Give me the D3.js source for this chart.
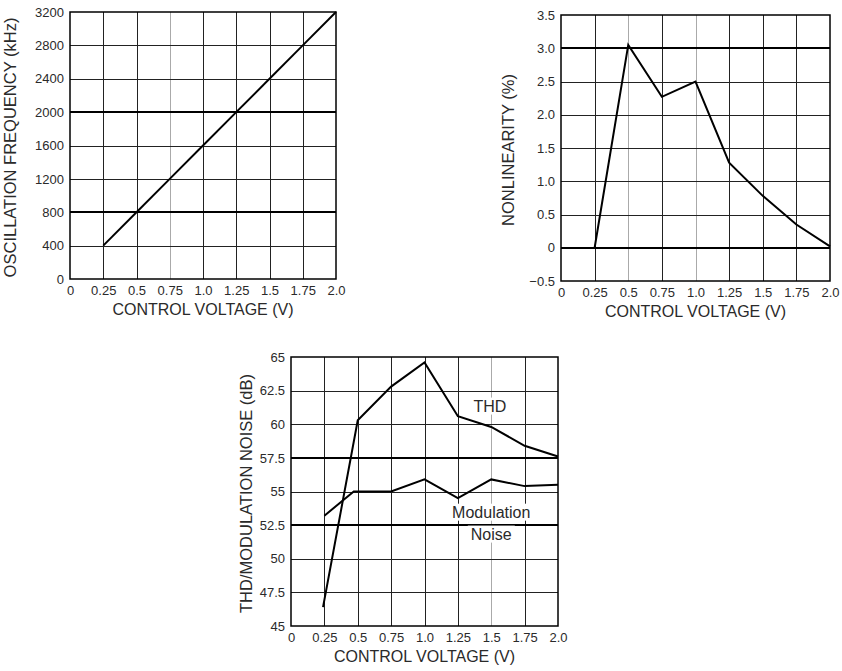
<!DOCTYPE html>
<html>
<head>
<meta charset="utf-8">
<script src="https://cdn.jsdelivr.net/npm/d3@7"></script>
<style>
  body { margin: 0; background: #fff; }
  svg { display: block; font-family: "Liberation Sans", Arial, Helvetica, sans-serif; }
  .tick text { fill: #2a2a2a; }
</style>
</head>
<body>
<script>
// x values shared by all three charts
var voltages = [0.25, 0.5, 0.75, 1.0, 1.25, 1.5, 1.75, 2.0];
var xTicks = [0, 0.25, 0.5, 0.75, 1.0, 1.25, 1.5, 1.75, 2.0];
var xTickLabels = ["0", "0.25", "0.5", "0.75", "1.0", "1.25", "1.5", "1.75", "2.0"];

// chart 1: oscillation frequency
var freq = [400, 800, 1200, 1600, 2000, 2400, 2800, 3200];
var freqTicks = [0, 400, 800, 1200, 1600, 2000, 2400, 2800, 3200];

// chart 2: nonlinearity
var nonlin = [0, 3.05, 2.27, 2.5, 1.28, 0.78, 0.35, 0.02];
var nonlinTicks = [-0.5, 0, 0.5, 1.0, 1.5, 2.0, 2.5, 3.0, 3.5];
var nonlinTickLabels = ["\u22120.5", "0", "0.5", "1.0", "1.5", "2.0", "2.5", "3.0", "3.5"];

// chart 3: THD and modulation noise
var thdX = [0.24, 0.5, 0.75, 1.0, 1.25, 1.5, 1.75, 2.0];
var thd = [46.4, 60.3, 62.8, 64.6, 60.6, 59.8, 58.4, 57.6];
var noiseX = [0.25, 0.47, 0.75, 1.0, 1.25, 1.5, 1.75, 2.0];
var noise = [53.2, 55.0, 55.0, 55.9, 54.5, 55.9, 55.4, 55.5];
var dbTicks = [45, 47.5, 50, 52.5, 55, 57.5, 60, 62.5, 65];

var svg = d3.select("body").append("svg")
  .attr("width", 842)
  .attr("height", 671);

// snap to pixel so 1px grid lines stay crisp
function px(v) { return Math.round(v) + 0.5; }

function drawChart(opt) {
  var g = svg.append("g");
  var x = d3.scaleLinear().domain([0, 2]).range([opt.left, opt.right]);
  var y = d3.scaleLinear().domain(opt.yDomain).range([opt.bottom, opt.top]);

  // grid
  g.selectAll(".vgrid").data(xTicks.slice(1, -1)).enter().append("line")
    .attr("x1", d => px(x(d))).attr("x2", d => px(x(d)))
    .attr("y1", opt.top).attr("y2", opt.bottom)
    .attr("stroke", d => opt.lightV.indexOf(d) >= 0 ? "#aaa" : "#222")
    .attr("stroke-width", 1);
  g.selectAll(".hgrid").data(opt.yTicks.slice(1, -1)).enter().append("line")
    .attr("x1", opt.left).attr("x2", opt.right)
    .attr("y1", d => opt.thickH.indexOf(d) >= 0 ? Math.round(y(d)) : px(y(d)))
    .attr("y2", d => opt.thickH.indexOf(d) >= 0 ? Math.round(y(d)) : px(y(d)))
    .attr("stroke", d => opt.thickH.indexOf(d) >= 0 ? "#000" : "#222")
    .attr("stroke-width", d => opt.thickH.indexOf(d) >= 0 ? 2 : 1);

  // frame
  g.append("rect")
    .attr("x", opt.left).attr("y", opt.top)
    .attr("width", opt.right - opt.left).attr("height", opt.bottom - opt.top)
    .attr("fill", "none").attr("stroke", "#000").attr("stroke-width", 1.5);

  // axes
  var xAxis = d3.axisBottom(x).tickValues(xTicks)
    .tickFormat((d, i) => xTickLabels[i]).tickSize(0).tickPadding(7);
  g.append("g").attr("transform", `translate(0,${opt.bottom})`).call(xAxis)
    .call(a => a.select(".domain").remove())
    .selectAll("text").style("font-size", "13px");

  var yAxis = d3.axisLeft(y).tickValues(opt.yTicks)
    .tickFormat((d, i) => opt.yLabels[i]).tickSize(0).tickPadding(6);
  g.append("g").attr("transform", `translate(${opt.left},0)`).call(yAxis)
    .call(a => a.select(".domain").remove())
    .selectAll("text").style("font-size", "13px");

  // titles
  g.append("text")
    .attr("x", (opt.left + opt.right) / 2)
    .attr("y", opt.bottom + 36)
    .attr("text-anchor", "middle")
    .style("font-size", "16px").attr("fill", "#2a2a2a")
    .text("CONTROL VOLTAGE (V)");
  g.append("text")
    .attr("transform", `translate(${opt.yTitleX},${(opt.top + opt.bottom) / 2 + 2}) rotate(-90)`)
    .attr("text-anchor", "middle")
    .style("font-size", "16.5px").attr("fill", "#2a2a2a")
    .text(opt.yTitle);

  var line = d3.line().x(d => x(d[0])).y(d => y(d[1]));
  opt.series.forEach(function(s) {
    g.append("path")
      .datum(d3.zip(s.x, s.y))
      .attr("d", line)
      .attr("fill", "none")
      .attr("stroke", "#000")
      .attr("stroke-width", 2);
  });
  return { g: g, x: x, y: y };
}

drawChart({
  left: 70, right: 336, top: 12, bottom: 279,
  yDomain: [0, 3200], yTicks: freqTicks, yLabels: freqTicks.map(String),
  thickH: [2000, 800], lightV: [0.75],
  yTitle: "OSCILLATION FREQUENCY (kHz)", yTitleX: 16,
  series: [{ x: voltages, y: freq }]
});

drawChart({
  left: 561, right: 830, top: 15, bottom: 281,
  yDomain: [-0.5, 3.5], yTicks: nonlinTicks, yLabels: nonlinTickLabels,
  thickH: [3.0, 0], lightV: [0.5, 1.0],
  yTitle: "NONLINEARITY (%)", yTitleX: 514,
  series: [{ x: voltages, y: nonlin }]
});

var c3 = drawChart({
  left: 291, right: 558, top: 357, bottom: 626,
  yDomain: [45, 65], yTicks: dbTicks, yLabels: dbTicks.map(String),
  thickH: [57.5, 52.5], lightV: [1.5],
  yTitle: "THD/MODULATION NOISE (dB)", yTitleX: 252,
  series: [{ x: thdX, y: thd }, { x: noiseX, y: noise }]
});

// curve labels with white backing
function label(g, cx, cy, txt) {
  var t = g.append("text")
    .attr("x", cx).attr("y", cy)
    .attr("text-anchor", "middle").attr("dy", "0.35em")
    .style("font-size", "16px").attr("fill", "#2a2a2a")
    .text(txt);
  var b = t.node().getBBox();
  g.insert("rect", function() { return t.node(); })
    .attr("x", b.x - 3).attr("y", b.y)
    .attr("width", b.width + 6).attr("height", b.height)
    .attr("fill", "#fff");
}
label(c3.g, c3.x(1.49), c3.y(61.36), "THD");
label(c3.g, c3.x(1.5), c3.y(53.47), "Modulation");
label(c3.g, c3.x(1.5), c3.y(51.84), "Noise");
</script>
</body>
</html>
